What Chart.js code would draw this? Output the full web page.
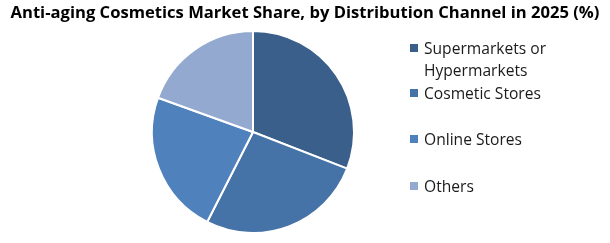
<!DOCTYPE html>
<html>
<head>
<meta charset="utf-8">
<script src="https://cdn.jsdelivr.net/npm/chart.js@4"></script>
<style>
  body { margin: 0; background: #fff; }
  #wrap { position: relative; width: 610px; height: 243px; }
  #title { position: absolute; left: 0; top: 0; width: 610px; text-align: center; font-family: "Open Sans", sans-serif; font-weight: bold; font-size: 16.6px; color: #000; white-space: nowrap; }
  #legend { position: absolute; left: 410px; top: 0; font-family: "Open Sans", sans-serif; font-size: 15.6px; color: #1a1a1a; }
  .item { position: absolute; left: 0; white-space: nowrap; line-height: 22px; }
  .box { position: absolute; left: 0; top: 7px; width: 8px; height: 8px; }
  .txt { position: absolute; left: 14px; top: 0; }
</style>
</head>
<body>
<div id="wrap">
  <canvas id="pie" width="610" height="243"></canvas>
  <div id="title"></div>
  <div id="legend"></div>
</div>
<script>
const title = "Anti-aging Cosmetics Market Share, by Distribution Channel in 2025 (%)";
const channels = ["Supermarkets or Hypermarkets", "Cosmetic Stores", "Online Stores", "Others"];
const legendLines = [["Supermarkets or", "Hypermarkets"], ["Cosmetic Stores"], ["Online Stores"], ["Others"]];
const shares = [30.9, 26.6, 23.0, 19.5];
const colors = ["#3a5f8b", "#4572a7", "#4f81bd", "#93a9cf"];

document.getElementById("title").textContent = title;

const pieChart = new Chart(document.getElementById("pie"), {
    type: "pie",
    data: {
        labels: channels,
        datasets: [{
            data: shares,
            backgroundColor: colors,
            borderColor: "#ffffff",
            borderWidth: 2
        }]
    },
    options: {
        responsive: false,
        animation: false,
        layout: { padding: { top: 30, bottom: 9, left: 0, right: 104 } },
        plugins: {
            legend: { display: false },
            tooltip: { enabled: false },
            title: { display: false }
        }
    }
});

// legend on the right
const legendTops = [37, 82, 128, 175];
const legend = document.getElementById("legend");
channels.forEach(function(name, i){
    const item = document.createElement("div");
    item.className = "item";
    item.style.top = legendTops[i] + "px";
    item.innerHTML = '<div class="box" style="background:' + colors[i] + '"></div>' +
        '<div class="txt">' + legendLines[i].join("<br>") + '</div>';
    legend.appendChild(item);
});
</script>
</body>
</html>
